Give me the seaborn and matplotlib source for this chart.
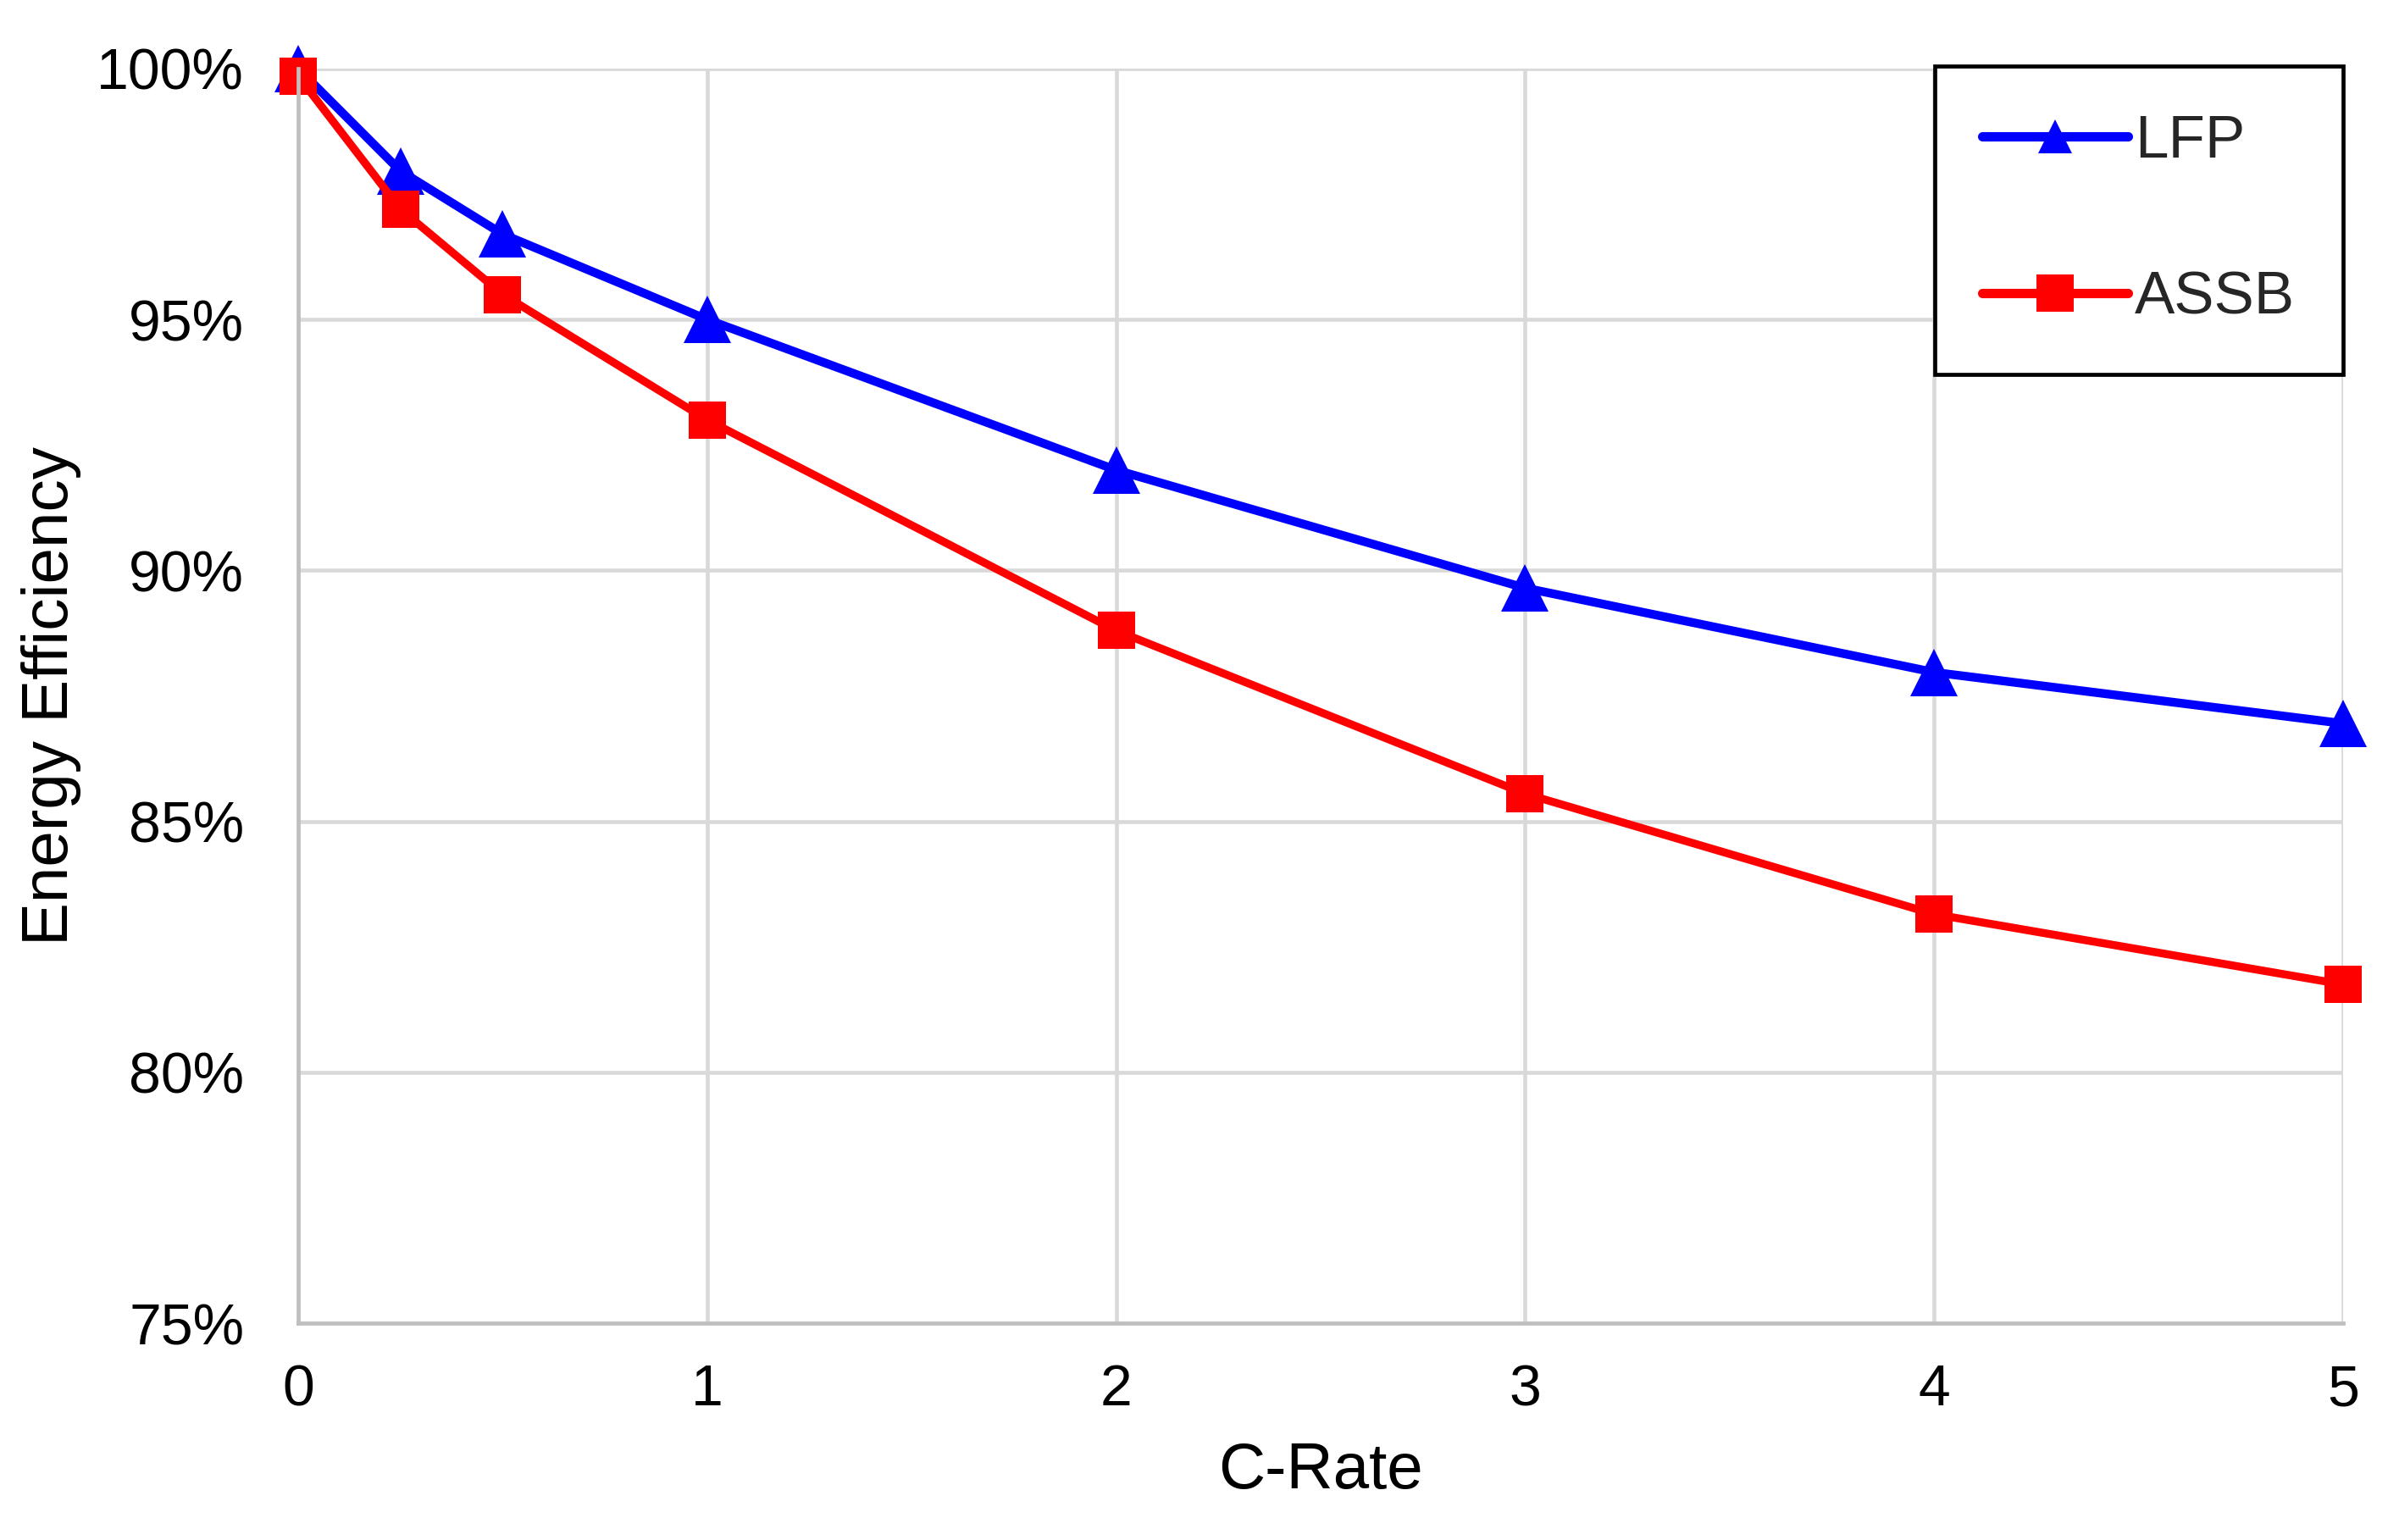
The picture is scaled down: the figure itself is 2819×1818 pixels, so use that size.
import matplotlib
matplotlib.use('Agg')
import matplotlib.pyplot as plt
from matplotlib.ticker import PercentFormatter
import pandas as pd
import seaborn as sns

# values
c_rate = [0, 0.25, 0.5, 1, 2, 3, 4, 5]
lfp = [100.0, 97.96, 96.7, 95.0, 92.0, 89.65, 87.97, 86.95]
assb = [99.85, 97.2, 95.5, 93.0, 88.8, 85.55, 83.15, 81.75]
y_ticks = [75, 80, 85, 90, 95, 100]
x_ticks = [0, 1, 2, 3, 4, 5]

df = pd.DataFrame({'C-Rate': c_rate, 'LFP': lfp, 'ASSB': assb})

sns.set_theme(style='white')
plt.rcParams['font.family'] = ['Liberation Sans', 'DejaVu Sans']

fig = plt.figure(figsize=(28.19, 18.18), dpi=100)
ax = fig.add_axes([0.12487, 0.14081, 0.85633, 0.81464])

sns.lineplot(data=df, x='C-Rate', y='LFP', ax=ax, color='#0000FF', linewidth=7.4,
             marker='^', markersize=41, markeredgewidth=0, label='LFP', clip_on=False)
sns.lineplot(data=df, x='C-Rate', y='ASSB', ax=ax, color='#FF0000', linewidth=6.8,
             marker='s', markersize=32, markeredgewidth=0, label='ASSB', clip_on=False)

ax.set_xlim(0, 5)
ax.set_ylim(75, 100)
ax.set_xticks(x_ticks)
ax.set_yticks(y_ticks)
ax.yaxis.set_major_formatter(PercentFormatter(xmax=100, decimals=0))

ax.grid(True, color='#d9d9d9', linewidth=3.3)
ax.set_axisbelow(True)
for side in ['top', 'right']:
    ax.spines[side].set_visible(False)
for side in ['left', 'bottom']:
    ax.spines[side].set_color('#bfbfbf')
    ax.spines[side].set_linewidth(3.4)

ax.tick_params(axis='x', length=0, pad=34, labelsize=49, colors='black')
ax.tick_params(axis='y', length=0, pad=46, labelsize=49, colors='black')
ax.set_xlabel('C-Rate', fontsize=55, labelpad=21, color='black')
ax.set_ylabel('Energy Efficiency', fontsize=55, labelpad=13, color='black')

leg = ax.legend(loc='upper right', bbox_to_anchor=(0.98120, 0.95710),
                bbox_transform=fig.transFigure, borderaxespad=0,
                fontsize=51, frameon=True, fancybox=False, framealpha=1,
                edgecolor='black', handlelength=2.42, handletextpad=0.12,
                labelspacing=1.68, borderpad=0.8)
leg.get_frame().set_linewidth(3.4)
leg_sizes = [29.5, 31.5]
for handle, size in zip(leg.get_lines(), leg_sizes):
    handle.set_markersize(size)
    handle.set_linewidth(8.0)

fig.savefig('out.png', dpi=100, facecolor='white')
